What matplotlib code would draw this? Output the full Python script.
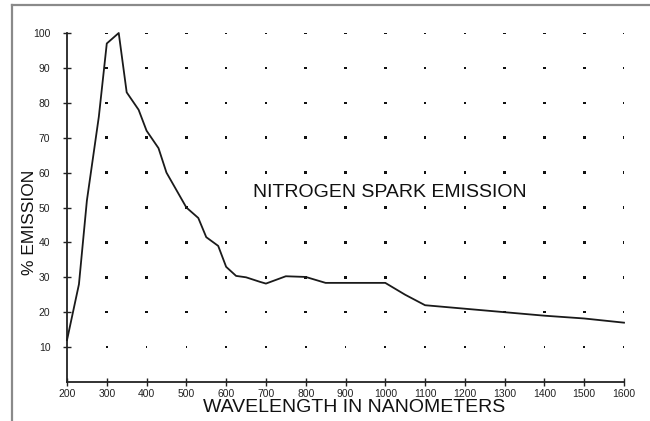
import numpy as np
import matplotlib
matplotlib.use('Agg')
import matplotlib.pyplot as plt
from matplotlib.lines import Line2D

plt.rcParams['font.family'] = ['Liberation Sans', 'DejaVu Sans']

# nitrogen spark emission curve
wavelength = [200, 230, 250, 270, 280, 300, 330, 350, 380, 400, 430, 450, 500,
              530, 550, 580, 600, 625, 650, 685, 700, 750, 800, 850, 1000,
              1050, 1100, 1150, 1200, 1300, 1400, 1500, 1600]
emission = [12, 28, 52, 68, 76, 97, 100, 83, 78, 72, 67, 60, 50,
            47, 41.5, 39, 33, 30.4, 30, 28.7, 28.2, 30.3, 30.1, 28.4, 28.4,
            25, 22, 21.5, 21, 20, 19, 18.2, 17]

xticks = list(range(200, 1700, 100))
yticks = list(range(10, 110, 10))

fig = plt.figure(figsize=(6.5, 4.21), dpi=100)
ax = fig.add_axes([67/650, 1-382/421, (624-67)/650, (382-33)/421])

# dotted grid: a dot at each tick crossing
gx, gy = np.meshgrid(xticks[1:], yticks)
sizes = np.where(gy == 10, 1.5, 3.5)
ax.scatter(gx.ravel(), gy.ravel(), s=sizes.ravel(), color='#111111',
           marker='s', linewidths=0, zorder=1)

ax.plot(wavelength, emission, color='#1a1a1a', lw=1.3, clip_on=False, zorder=3)

ax.set_xlim(200, 1600)
ax.set_ylim(0, 100)
ax.set_xticks(xticks)
ax.set_yticks(yticks)
ax.tick_params(direction='inout', length=6, width=1, labelsize=7.5,
               colors='#222222')
ax.tick_params(axis='y', pad=9)
ax.tick_params(axis='x', pad=2)
for s in ['top', 'right']:
    ax.spines[s].set_visible(False)
for s in ['left', 'bottom']:
    ax.spines[s].set_linewidth(1.3)
    ax.spines[s].set_color('#222222')

ax.text(1012, 54.4, 'NITROGEN SPARK EMISSION', ha='center', va='center',
        fontsize=14, color='#111111')
fig.text(354/650, 1-408/421, 'WAVELENGTH IN NANOMETERS', ha='center',
         va='center', fontsize=14, color='#111111')
fig.text(30/650, 1-222/421, '% EMISSION', ha='center', va='center',
         rotation=90, fontsize=12.5, color='#111111')

# grey frame at the top and left edge of the picture
fig.add_artist(Line2D([12/650, 12/650], [0, 1-5/421], transform=fig.transFigure,
                      color='#8a8a8a', lw=1.6))
fig.add_artist(Line2D([12/650, 1], [1-5/421, 1-5/421], transform=fig.transFigure,
                      color='#8a8a8a', lw=1.6))

fig.savefig('out.png', dpi=100)
